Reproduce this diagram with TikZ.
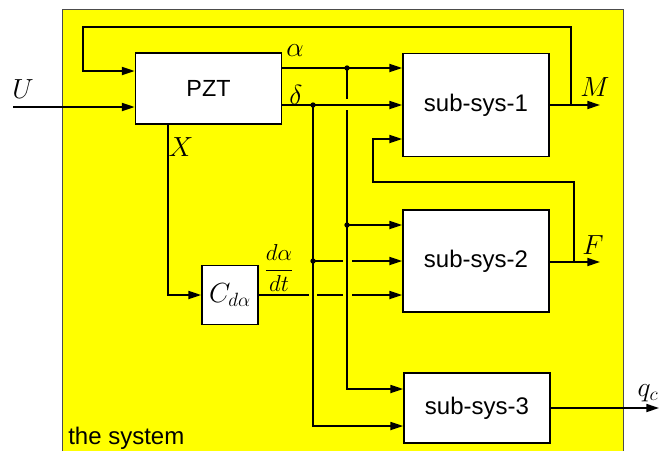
\documentclass[tikz,border=0pt]{standalone}
\usepackage{amsmath}
\usepackage{fontspec}
\setmainfont{Liberation Sans}
\usetikzlibrary{arrows.meta, positioning, calc}
\definecolor{sysyellow}{HTML}{FFFF00}

\begin{document}
\begin{tikzpicture}[
    x=0.75pt, y=-0.75pt,
    >={Triangle[length=9.5pt, width=6pt]},
    block/.style={draw, line width=1.3pt, fill=white, minimum width=109.5pt, minimum height=#1, inner sep=0pt, font=\fontsize{18}{20}\selectfont},
    wire/.style={line width=1.3pt},
    arrow/.style={->, line width=1.3pt},
    lbl/.style={inner sep=1pt, font=\fontsize{22}{25}\selectfont},
]
    \useasboundingbox (0,0) rectangle (659,450);
    \clip (0,0) rectangle (659,450);
    \draw[black!70, line width=0.6pt, fill=sysyellow] (62,9) rectangle (623,460);

    \node[block=53.25pt, font=\fontsize{17.5}{20}\selectfont] (pzt) at (208.5,88.5) {PZT};
    \node[block=77.25pt] (sub1) at (476,105) {sub-sys-1};
    \node[block=76.5pt] (sub2) at (476,261) {sub-sys-2};
    \node[block=52.5pt] (sub3) at (477,408) {sub-sys-3};
    \node[block=44.25pt, minimum width=42pt, font=\fontsize{21}{24}\selectfont] (cda) at (230,295) {$C_{d\alpha}$};

    \coordinate (uin) at (13,107);
    \coordinate (aj) at (347,68);
    \coordinate (dj) at (313,105);
    \coordinate (mj) at (571,105);
    \coordinate (fj) at (574,262);
    \coordinate (mout) at (600,105);
    \coordinate (fout) at (600,262);
    \coordinate (qout) at (659,408);
    \coordinate (topl) at (83,27);
    \coordinate (floop) at (373,182);

    % inputs and feedback
    \draw[arrow] (uin) -- (pzt.west |- uin);
    \draw[arrow] (mj) |- (topl) |- (pzt.west |- 0,71);
    \draw[arrow] (fj) |- (floop) |- (sub1.west |- 0,139);

    % PZT outputs
    \draw[arrow] (pzt.east |- aj) -- (sub1.west |- aj);
    \draw[arrow] (pzt.east |- dj) -- (sub1.west |- dj);
    \draw[arrow] (pzt.south -| 168,0) |- (cda.west);

    % alpha branch
    \draw[wire] (aj) -- ($(aj |- dj)+(0,-6)$);
    \draw[arrow] ($(aj |- dj)+(0,5)$) |- (sub3.west |- 0,389);
    \draw[arrow] (aj |- 0,225) -- (sub2.west |- 0,225);

    % delta branch
    \draw[arrow] (dj) |- (sub3.west |- 0,426);
    \draw[wire] (dj |- 0,261) -- ($(aj |- 0,261)+(-4,0)$);
    \draw[arrow] ($(aj |- 0,261)+(5,0)$) -- (sub2.west |- 0,261);

    % derivative
    \draw[wire] (cda.east) -- ($(dj |- cda.east)+(-4,0)$);
    \draw[wire] ($(dj |- cda.east)+(4,0)$) -- ($(aj |- cda.east)+(-4,0)$);
    \draw[arrow] ($(aj |- cda.east)+(5,0)$) -- (sub2.west |- cda.east);

    % outputs
    \draw[arrow] (sub1.east) -- (mout);
    \draw[arrow] (sub2.east |- fj) -- (fout);
    \draw[arrow] (sub3.east) -- (qout);

    \foreach \j in {aj, dj} \fill (\j) circle (2pt);
    \fill (aj |- 0,225) circle (2pt);
    \fill (dj |- 0,261) circle (2pt);

    \node[lbl] (ulbl) at (23,89) {$U$};
    \node[lbl] (albl) at (295,51) {$\alpha$};
    \node[lbl] (dlbl) at (296,95) {$\delta$};
    \node[lbl] (xlbl) at (181,147) {$X$};
    \node[lbl] (mlbl) at (595,87) {$M$};
    \node[lbl] (flbl) at (593,245) {$F$};
    \node[lbl, anchor=west] (qlbl) at (636,393) {$q_c$};
    \node[font=\fontsize{19}{22}\selectfont, inner sep=0pt] (dadt) at (279,268) {$\dfrac{d\alpha}{dt}$};
    \node[anchor=base west, inner sep=0pt, font=\fontsize{18}{20}\selectfont] (syslbl) at (68,444) {the system};
\end{tikzpicture}
\end{document}
